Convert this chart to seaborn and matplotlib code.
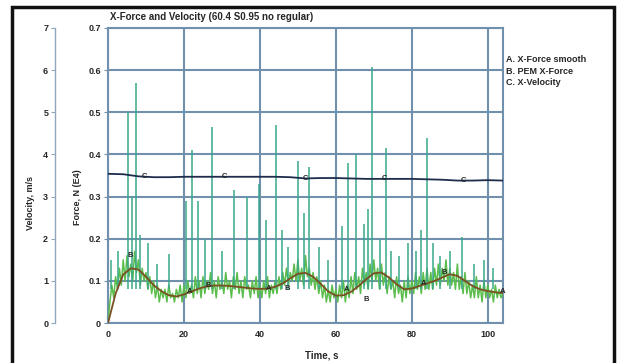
# X-Force and Velocity chart (recreated)
import numpy as np
import pandas as pd
import seaborn as sns
import matplotlib.pyplot as plt
from matplotlib.patches import Rectangle

# ---------------------------
# Data
# ---------------------------
title = "X-Force and Velocity (60.4 S0.95 no regular)"
legend_labels = ["A. X-Force smooth", "B. PEM X-Force", "C. X-Velocity"]

# B: PEM X-Force, sampled every 0.5 s (force, N E4)
pem_t = np.arange(0, 104.01, 0.5)
pem_force = [
    0.00, 0.05, 0.09, 0.06, 0.11, 0.08, 0.13, 0.09, 0.15, 0.10,
    0.16, 0.11, 0.14, 0.10, 0.17, 0.12, 0.15, 0.09, 0.13, 0.10,
    0.12, 0.08, 0.11, 0.07, 0.10, 0.06, 0.09, 0.05, 0.08, 0.06,
    0.08, 0.05, 0.09, 0.06, 0.07, 0.05, 0.08, 0.06, 0.09, 0.05,
    0.09, 0.06, 0.10, 0.07, 0.09, 0.06, 0.11, 0.07, 0.10, 0.06,
    0.11, 0.07, 0.10, 0.08, 0.12, 0.07, 0.10, 0.06, 0.11, 0.08,
    0.10, 0.07, 0.12, 0.08, 0.10, 0.06, 0.11, 0.08, 0.12, 0.07,
    0.10, 0.06, 0.11, 0.08, 0.09, 0.06, 0.10, 0.07, 0.11, 0.06,
    0.09, 0.06, 0.10, 0.07, 0.11, 0.06, 0.09, 0.07, 0.10, 0.07,
    0.11, 0.08, 0.12, 0.09, 0.13, 0.09, 0.12, 0.10, 0.14, 0.10,
    0.15, 0.10, 0.13, 0.09, 0.16, 0.11, 0.13, 0.09, 0.12, 0.08,
    0.11, 0.07, 0.10, 0.06, 0.09, 0.05, 0.08, 0.05, 0.09, 0.06,
    0.08, 0.05, 0.09, 0.06, 0.10, 0.05, 0.09, 0.06, 0.11, 0.07,
    0.12, 0.08, 0.11, 0.07, 0.13, 0.09, 0.12, 0.08, 0.14, 0.10,
    0.15, 0.10, 0.13, 0.08, 0.14, 0.09, 0.12, 0.07, 0.11, 0.08,
    0.10, 0.06, 0.11, 0.07, 0.09, 0.05, 0.10, 0.06, 0.11, 0.07,
    0.10, 0.07, 0.12, 0.08, 0.11, 0.07, 0.12, 0.08, 0.13, 0.08,
    0.12, 0.08, 0.13, 0.09, 0.14, 0.09, 0.13, 0.10, 0.15, 0.09,
    0.13, 0.09, 0.12, 0.08, 0.14, 0.08, 0.11, 0.07, 0.12, 0.07,
    0.10, 0.06, 0.09, 0.06, 0.11, 0.06, 0.09, 0.05, 0.10, 0.06,
    0.09, 0.06, 0.08, 0.05, 0.09, 0.06, 0.08, 0.06, 0.07,
]

# B: spikes in the PEM X-Force signal
spike_t = [0.8, 2.5, 5.3, 6.2, 7.3, 8.5, 10.5, 13.0, 16.0, 20.5, 22.0, 23.7,
           25.5, 27.5, 30.0, 33.3, 36.7, 39.8, 41.7, 44.3, 45.9, 47.5, 49.9,
           51.7, 53.0, 55.5, 58.0, 61.7, 63.3, 65.4, 67.5, 68.5, 69.6, 71.5,
           73.2, 74.5, 76.5, 79.0, 81.0, 82.4, 84.0, 85.5, 87.5, 90.0, 93.2,
           96.5, 99.0, 101.5]
spike_force = [0.15, 0.17, 0.50, 0.30, 0.57, 0.21, 0.19, 0.14, 0.165, 0.29,
               0.41, 0.29, 0.20, 0.465, 0.17, 0.315, 0.30, 0.33, 0.245, 0.47,
               0.22, 0.18, 0.385, 0.26, 0.37, 0.18, 0.15, 0.23, 0.38, 0.40,
               0.235, 0.27, 0.607, 0.20, 0.415, 0.17, 0.16, 0.19, 0.17, 0.22,
               0.44, 0.19, 0.16, 0.17, 0.205, 0.14, 0.15, 0.13]

# A: X-Force smooth, every 2 s
smooth_t = np.arange(0, 104.01, 2)
smooth_force = [
    0.000, 0.070, 0.115, 0.130, 0.127, 0.110, 0.090, 0.076, 0.066, 0.063,
    0.068, 0.075, 0.082, 0.087, 0.089, 0.089, 0.088, 0.086, 0.084, 0.082,
    0.081, 0.082, 0.086, 0.094, 0.106, 0.117, 0.119, 0.110, 0.093, 0.075,
    0.065, 0.066, 0.074, 0.088, 0.104, 0.118, 0.120, 0.108, 0.092, 0.080,
    0.082, 0.088, 0.094, 0.100, 0.108, 0.116, 0.112, 0.100, 0.088, 0.080,
    0.076, 0.073, 0.071,
]

# C: X-Velocity, every 4 s (m/s)
vel_t = np.arange(0, 104.01, 4)
velocity = [3.54, 3.53, 3.48, 3.46, 3.46, 3.47, 3.47, 3.47, 3.47, 3.47,
            3.47, 3.47, 3.46, 3.43, 3.44, 3.44, 3.43, 3.42, 3.42, 3.42,
            3.42, 3.41, 3.40, 3.38, 3.38, 3.39, 3.38]

# letter markers on the curves
a_mark_t = [21.5, 42.3, 62.7, 83.2, 104.0]
a_mark_f = [0.076, 0.083, 0.080, 0.094, 0.074]
b_mark_t = [5.8, 26.5, 47.3, 68.0, 88.5]
b_mark_f = [0.160, 0.090, 0.083, 0.057, 0.120]
c_mark_t = [9.7, 30.7, 52.0, 72.7, 93.7]
c_mark_v = [3.47, 3.47, 3.44, 3.42, 3.38]

x_ticks = [0, 20, 40, 60, 80, 100]
force_ticks = [0, 0.1, 0.2, 0.3, 0.4, 0.5, 0.6, 0.7]
vel_ticks = [0, 1, 2, 3, 4, 5, 6, 7]

# ---------------------------
# Visualization
# ---------------------------
sns.set_style("white")
plt.rcParams["font.family"] = ["Liberation Sans", "DejaVu Sans"]
plt.rcParams["font.weight"] = "bold"

grid_c = "#7090ae"
fig = plt.figure(figsize=(6.18, 3.63), dpi=100)
ax = fig.add_axes([0.1748, 0.110, 0.639, 0.813])

# B series
sns.lineplot(x=pem_t, y=pem_force, ax=ax, color="#5bbd4c", lw=1.1,
             estimator=None, zorder=3)
ax.vlines(spike_t, 0.08, spike_force, color="#39a88c", lw=1.1, zorder=3)
# A series
sns.lineplot(x=smooth_t, y=smooth_force, ax=ax, color="#7a4f22", lw=1.3,
             estimator=None, zorder=4)

ax.set_xlim(0, 104)
ax.set_ylim(0, 0.7)
ax.set_xticks(x_ticks)
ax.set_yticks(force_ticks)
ax.set_yticklabels(["0", "0.1", "0.2", "0.3", "0.4", "0.5", "0.6", "0.7"])
ax.tick_params(axis="both", labelsize=6.5, length=3, width=0.8,
               color=grid_c, pad=2)
ax.grid(True, color=grid_c, lw=1.5, zorder=1)
ax.set_axisbelow(True)
for s in ax.spines.values():
    s.set_color(grid_c)
    s.set_linewidth(1.5)
ax.set_xlabel("")
ax.set_ylabel("")

for t, f in zip(a_mark_t, a_mark_f):
    ax.text(t, f, "A", fontsize=5.5, ha="center", va="center", zorder=6)
for t, f in zip(b_mark_t, b_mark_f):
    ax.text(t, f, "B", fontsize=5.5, ha="center", va="center", zorder=6)

# velocity axis on the far left
ax2 = ax.twinx()
sns.lineplot(x=vel_t, y=velocity, ax=ax2, color="#1e2d4c", lw=1.3,
             estimator=None, zorder=5)
for t, v in zip(c_mark_t, c_mark_v):
    ax2.text(t, v, "C", fontsize=5.5, ha="center", va="center", zorder=6)
ax2.set_ylim(0, 7)
ax2.set_yticks(vel_ticks)
ax2.yaxis.set_ticks_position("left")
ax2.spines["left"].set_position(("axes", -0.134))
ax2.spines["left"].set_visible(True)
ax2.spines["left"].set_color("#8fa6bd")
ax2.spines["left"].set_linewidth(1.0)
for k in ["right", "top", "bottom"]:
    ax2.spines[k].set_visible(False)
ax2.tick_params(axis="y", labelsize=6.5, length=3, width=0.8,
                color="#8fa6bd", pad=2)
ax2.set_ylabel("")

# texts
fig.text(0.178, 0.953, title, fontsize=7, ha="left", va="center")
fig.text(0.049, 0.44, "Velocity, m/s", fontsize=6.5, rotation=90,
         ha="center", va="center")
fig.text(0.126, 0.457, "Force, N (E4)", fontsize=6.5, rotation=90,
         ha="center", va="center")
fig.text(0.52, 0.022, "Time, s", fontsize=7, ha="center", va="center")
for i, lab in enumerate(legend_labels):
    fig.text(0.818, 0.835 - i * 0.031, lab, fontsize=6.5, ha="left",
             va="center")

# outer frame
fig.patches.append(Rectangle((12 / 618, -0.05), 602 / 618, 1.0307,
                             transform=fig.transFigure, fill=False,
                             edgecolor="#111111", lw=2.5))

plt.savefig("out.png", dpi=100)
